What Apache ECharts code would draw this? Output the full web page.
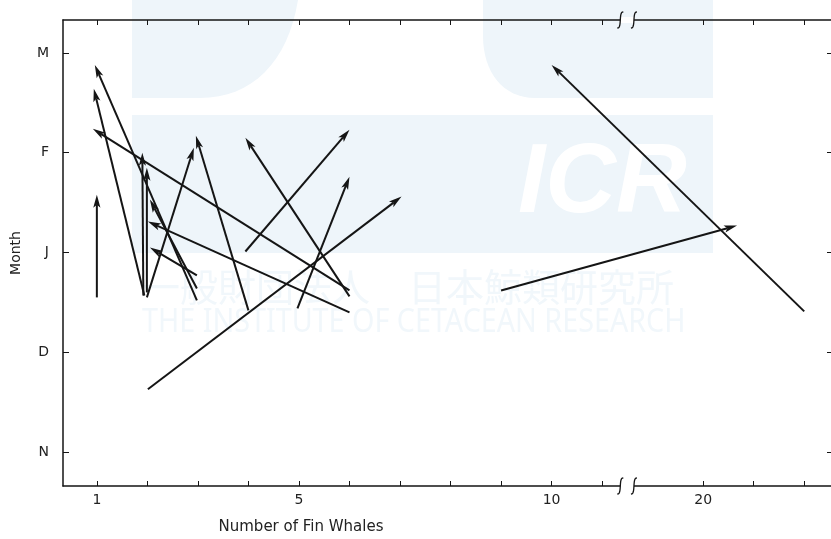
<!DOCTYPE html>
<html>
<head>
<meta charset="utf-8">
<script src="https://cdn.jsdelivr.net/npm/echarts@6/dist/echarts.min.js"></script>
<style>
  html, body { margin: 0; padding: 0; background: #fff; }
  #chart { width: 831px; height: 539px; }
</style>
</head>
<body>
<div id="chart"></div>
<script>
// month axis: N D J F M  (0..4)
const monthLabels = ['N', 'D', 'J', 'F', 'M'];
const monthTicks = [0, 1, 2, 3, 4];
// number of fin whales; axis is broken between 11 and 20
const countTicks = [1, 2, 3, 4, 5, 6, 7, 8, 9, 10, 11, 20, 21, 22];
const countLabels = [1, 5, 10, 20];

// each arrow: start (count, month) -> end (count, month)
const startCount = [1.00, 1.94, 2.98, 6.00, 1.92, 1.99, 1.99, 4.00, 2.98, 2.98, 6.00, 4.97, 2.01, 3.94, 6.00, 22.0, 9.00];
const startMonth = [1.55, 1.57, 1.52, 1.62, 1.57, 1.60, 1.55, 1.42, 1.64, 1.77, 1.40, 1.44, 0.63, 2.01, 1.56, 1.41, 1.62];
const endCount   = [1.00, 0.94, 0.96, 0.92, 1.90, 1.99, 2.92, 2.96, 2.05, 2.05, 2.01, 6.00, 7.03, 6.00, 3.94, 10.0, 20.67];
const endMonth   = [2.58, 3.64, 3.88, 3.24, 3.00, 2.85, 3.05, 3.17, 2.53, 2.05, 2.31, 2.76, 2.56, 3.23, 3.15, 3.88, 2.27];

const BREAK_SHIFT = 7; // 12..18 cut out of the axis
function pos(c) { return c >= 19 ? c - BREAK_SHIFT : c; }
function unpos(p) { return p >= 12 ? p + BREAK_SHIFT : p; }

const arrows = startCount.map((c, i) => [pos(c), startMonth[i], pos(endCount[i]), endMonth[i]]);

const FONT = 'DejaVu Sans';
const INK = '#151515';

const chart = echarts.init(document.getElementById('chart'));

function renderArrow(params, api) {
  const p1 = api.coord([api.value(0), api.value(1)]);
  const p2 = api.coord([api.value(2), api.value(3)]);
  const dx = p2[0] - p1[0], dy = p2[1] - p1[1];
  const len = Math.sqrt(dx * dx + dy * dy) || 1;
  const ux = dx / len, uy = dy / len;
  const hl = 13, hw = 3.6;
  const bx = p2[0] - ux * hl, by = p2[1] - uy * hl;
  return {
    type: 'group',
    children: [
      {
        type: 'line',
        shape: { x1: p1[0], y1: p1[1], x2: bx + ux * 3, y2: by + uy * 3 },
        style: { stroke: INK, lineWidth: 2 }
      },
      {
        type: 'polygon',
        shape: {
          points: [
            p2,
            [bx - uy * hw, by + ux * hw],
            [bx + ux * 3, by + uy * 3],
            [bx + uy * hw, by - ux * hw]
          ]
        },
        style: { fill: INK }
      }
    ]
  };
}

const axisLine = { show: true, onZero: false, lineStyle: { color: INK, width: 1.5 } };

const option = {
  animation: false,
  grid: { left: 63, top: 20, right: -1, bottom: 53 },
  xAxis: [
    {
      type: 'value',
      position: 'bottom',
      min: 0.33,
      max: 15.53,
      axisLine: axisLine,
      splitLine: { show: false },
      axisTick: {
        show: true, inside: true, length: 5,
        customValues: countTicks.map(pos),
        lineStyle: { color: INK, width: 1 }
      },
      axisLabel: {
        customValues: countLabels.map(pos),
        formatter: v => String(unpos(v)),
        margin: 7,
        color: '#222',
        fontFamily: FONT,
        fontSize: 14
      }
    },
    {
      type: 'value',
      position: 'top',
      min: 0.33,
      max: 15.53,
      axisLine: axisLine,
      splitLine: { show: false },
      axisTick: {
        show: true, inside: true, length: 5,
        customValues: countTicks.map(pos),
        lineStyle: { color: INK, width: 1 }
      },
      axisLabel: { show: false }
    }
  ],
  yAxis: [
    {
      type: 'value',
      position: 'left',
      min: -0.34,
      max: 4.33,
      name: 'Month',
      nameLocation: 'middle',
      nameGap: 40,
      nameTextStyle: { color: '#222', fontFamily: FONT, fontSize: 14 },
      axisLine: axisLine,
      splitLine: { show: false },
      axisTick: {
        show: true, inside: true, length: 6,
        customValues: monthTicks,
        lineStyle: { color: INK, width: 1 }
      },
      axisLabel: {
        customValues: monthTicks,
        formatter: v => monthLabels[Math.round(v)],
        margin: 14,
        color: '#222',
        fontFamily: FONT,
        fontSize: 14
      }
    },
    {
      type: 'value',
      position: 'right',
      min: -0.34,
      max: 4.33,
      axisLine: { show: false, onZero: false },
      splitLine: { show: false },
      axisTick: {
        show: true, inside: true, length: 4,
        customValues: monthTicks,
        lineStyle: { color: INK, width: 1 }
      },
      axisLabel: { show: false }
    }
  ],
  series: [
    {
      type: 'custom',
      renderItem: renderArrow,
      encode: { x: [0, 2], y: [1, 3] },
      data: arrows,
      z: 5
    }
  ]
};

chart.setOption(option);

// sample a cubic bezier into points for polygon outlines
function bez(p0, c1, c2, p3, n) {
  const out = [];
  for (let i = 0; i <= n; i++) {
    const t = i / n, u = 1 - t;
    out.push([
      u * u * u * p0[0] + 3 * u * u * t * c1[0] + 3 * u * t * t * c2[0] + t * t * t * p3[0],
      u * u * u * p0[1] + 3 * u * u * t * c1[1] + 3 * u * t * t * c2[1] + t * t * t * p3[1]
    ]);
  }
  return out;
}

// watermark (faint logo behind the plot)
const WM = '#eef5fa';
const WMT = '#f1f7fb';
const leftLobe = [[132, 0], [298, 0]].concat(bez([298, 0], [288, 62], [252, 98], [200, 98], 16)).concat([[132, 98]]);
const rightLobe = [[483, 0], [713, 0], [713, 98], [535, 98]].concat(bez([535, 98], [503, 98], [483, 72], [483, 36], 16));

const graphics = [
  { type: 'polygon', z: -10, shape: { points: leftLobe }, style: { fill: WM } },
  { type: 'polygon', z: -10, shape: { points: rightLobe }, style: { fill: WM } },
  { type: 'rect', z: -10, shape: { x: 132, y: 115, width: 581, height: 138 }, style: { fill: WM } },
  { type: 'text', z: -9, style: { text: 'ICR', x: 518, y: 234, fill: '#fff', fontFamily: 'Liberation Sans', fontWeight: 'bold', fontStyle: 'italic', fontSize: 98, textVerticalAlign: 'bottom' } },
  { type: 'text', z: -9, style: { text: '一般財団法人　日本鯨類研究所', x: 142, y: 287, fill: WMT, fontFamily: 'Noto Sans CJK JP', fontSize: 38, textVerticalAlign: 'middle' } },
  { type: 'text', z: -9, x: 142, y: 323, scaleX: 0.87, style: { text: 'THE INSTITUTE OF CETACEAN RESEARCH', x: 0, y: 0, fill: WMT, fontFamily: 'Noto Sans', fontSize: 33, textVerticalAlign: 'middle' } },
  { type: 'text', style: { text: 'Number of Fin Whales', x: 301, y: 527, fill: '#222', fontFamily: FONT, fontSize: 15, textAlign: 'center', textVerticalAlign: 'middle' } }
];

// axis break marks: two small integral-like curves on top and bottom axes
const bx1 = chart.convertToPixel({ xAxisIndex: 0 }, 11.36);
const bx2 = chart.convertToPixel({ xAxisIndex: 0 }, 11.63);
const yBottom = chart.convertToPixel({ yAxisIndex: 0 }, -0.34);
const yTop = chart.convertToPixel({ yAxisIndex: 0 }, 4.33);
[yBottom, yTop].forEach(y => {
  graphics.push({ type: 'rect', z: 50, shape: { x: bx1, y: y - 3, width: bx2 - bx1, height: 6 }, style: { fill: '#fff' } });
  [bx1, bx2].forEach(x => {
    graphics.push({
      type: 'polyline', z: 51,
      shape: { points: bez([x - 3, y + 8], [x + 2, y + 9], [x - 2, y - 9], [x + 3, y - 8], 12) },
      style: { stroke: INK, lineWidth: 1.3, fill: null }
    });
  });
});

chart.setOption({ graphic: graphics });
</script>
</body>
</html>
